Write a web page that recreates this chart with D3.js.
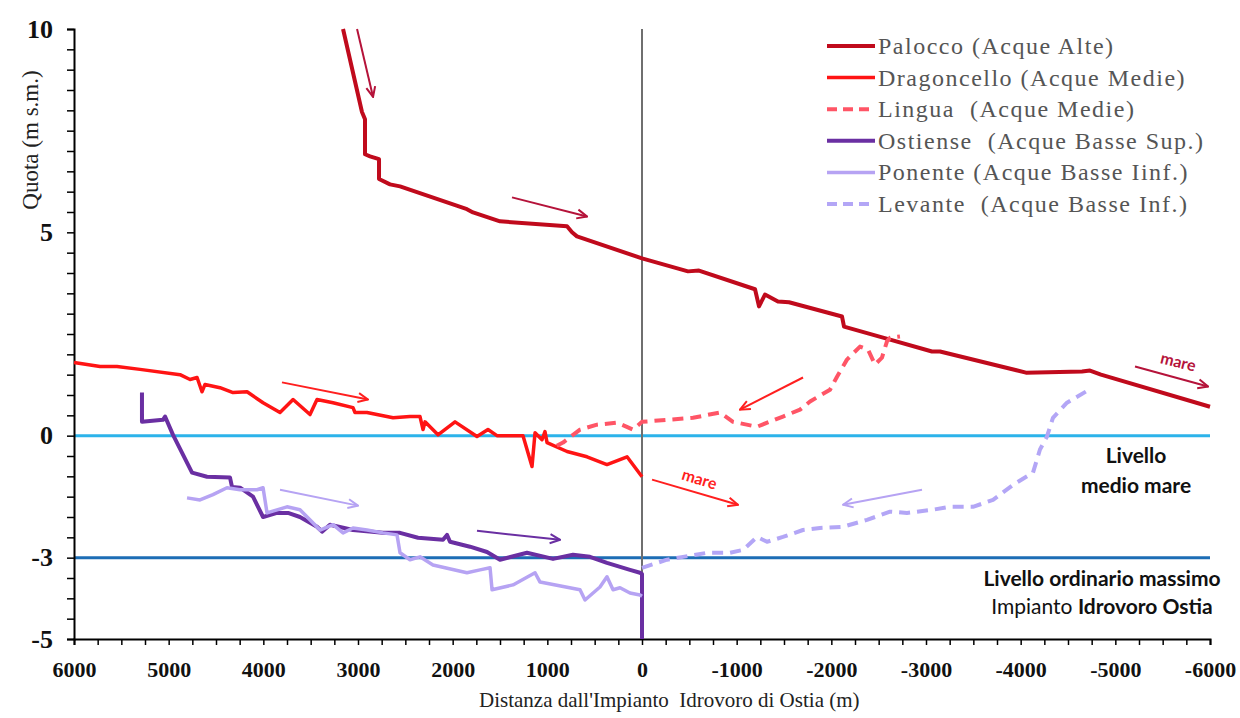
<!DOCTYPE html>
<html>
<head>
	<title>Profili idraulici</title>
    <script type="text/javascript" src="https://cdnjs.cloudflare.com/ajax/libs/d3/7.8.5/d3.min.js"></script>
    <style>
        body { margin: 0; background: #ffffff; }
    </style>
</head>
<body>
</body>

<script type="text/javascript">

// Profili dei canali - distanza (m) dall'impianto idrovoro, quota (m s.m.)

var palocco = [[3158,10],[2958,7.96],[2926,7.78],[2926,6.92],[2873,6.87],[2778,6.80],[2778,6.31],[2662,6.18],[2556,6.13],
    [1849,5.57],[1785,5.49],[1500,5.27],[792,5.15],[739,5.0],[687,4.90],[0,4.36],[-486,4.04],[-602,4.06],[-1194,3.60],
    [-1236,3.18],[-1299,3.47],[-1436,3.30],[-1553,3.28],[-2113,2.93],[-2134,2.68],[-2546,2.41],[-3063,2.07],[-3148,2.07],
    [-4056,1.55],[-4648,1.58],[-4732,1.60],[-4848,1.50],[-6000,0.71]]

var dragoncello = [[6000,1.80],[5725,1.70],[5546,1.70],[5303,1.63],[4880,1.50],[4774,1.38],[4700,1.43],[4648,1.08],
    [4616,1.26],[4458,1.18],[4320,1.06],[4172,1.08],[4003,0.81],[3824,0.57],[3686,0.89],[3507,0.52],[3433,0.89],
    [3264,0.81],[3053,0.69],[3032,0.57],[2905,0.57],[2630,0.44],[2451,0.47],[2345,0.47],[2313,0.15],[2292,0.34],
    [2155,0.02],[1975,0.34],[1743,-0.02],[1627,0.15],[1532,0],[1257,0],[1162,-0.76],[1130,0.07],[1056,-0.10],
    [1025,0.10],[1003,-0.17],[792,-0.39],[581,-0.52],[370,-0.71],[158,-0.52],[0,-1.01]]

var lingua = [[900,-0.25],[834,-0.17],[655,0.15],[475,0.27],[264,0.32],[95,0.15],[0,0.34],[-264,0.39],[-539,0.44],
    [-824,0.57],[-961,0.34],[-1215,0.22],[-1489,0.47],[-1669,0.64],[-1775,0.84],[-1986,1.13],[-2060,1.45],[-2165,1.87],
    [-2303,2.19],[-2387,2.12],[-2461,1.75],[-2535,1.92],[-2588,2.32],[-2620,2.41],[-2725,2.44]]

var ostiense = [[5282,1.06],[5282,0.34],[5060,0.39],[5038,0.47],[4954,0.02],[4753,-0.91],[4595,-1.01],[4352,-1.03],
    [4331,-1.26],[4246,-1.28],[4109,-1.50],[4003,-2.0],[3855,-1.90],[3739,-1.90],[3613,-2.0],[3433,-2.24],[3380,-2.36],
    [3296,-2.19],[3053,-2.32],[2736,-2.39],[2556,-2.39],[2366,-2.51],[2102,-2.56],[2060,-2.44],[2028,-2.61],[1817,-2.73],
    [1637,-2.86],[1500,-3.05],[1215,-2.88],[940,-3.03],[729,-2.93],[550,-2.98],[370,-3.13],[127,-3.30],[21,-3.37],
    [0,-3.4],[0,-5]]

var ponente = [[4806,-1.53],[4669,-1.58],[4532,-1.45],[4384,-1.28],[4246,-1.33],[4067,-1.33],[4003,-1.28],[3961,-1.90],
    [3750,-1.75],[3613,-1.82],[3401,-2.32],[3264,-2.19],[3158,-2.39],[3053,-2.27],[2905,-2.32],[2736,-2.39],[2588,-2.44],
    [2556,-2.88],[2451,-3.05],[2345,-2.98],[2208,-3.18],[1849,-3.37],[1711,-3.30],[1605,-3.25],[1584,-3.79],[1363,-3.67],
    [1130,-3.37],[1077,-3.60],[655,-3.79],[602,-4.04],[444,-3.72],[370,-3.47],[306,-3.79],[232,-3.74],[127,-3.87],
    [21,-3.92],[0,-3.95]]

var levante = [[0,-3.25],[-264,-3.05],[-433,-2.98],[-687,-2.88],[-930,-2.88],[-1067,-2.81],[-1215,-2.49],[-1320,-2.61],
    [-1489,-2.49],[-1700,-2.32],[-1880,-2.27],[-2123,-2.24],[-2377,-2.07],[-2620,-1.87],[-2799,-1.90],[-3074,-1.82],
    [-3253,-1.75],[-3496,-1.75],[-3708,-1.58],[-3919,-1.21],[-4130,-0.91],[-4204,-0.34],[-4278,-0.02],[-4341,0.44],
    [-4489,0.81],[-4700,1.1]]

var seriesNames = ["Palocco (Acque Alte)", "Dragoncello (Acque Medie)", "Lingua  (Acque Medie)",
    "Ostiense  (Acque Basse Sup.)", "Ponente (Acque Basse Iinf.)", "Levante  (Acque Basse Inf.)"]

// livelli di riferimento
var levelValues = [0, -3]

// tick labels
var xTickLabels = [6000, 5000, 4000, 3000, 2000, 1000, 0, -1000, -2000, -3000, -4000, -5000, -6000]
var yTickLabels = [10, 5, 0, -3, -5]

// frecce di direzione del flusso [x1, q1, x2, q2]
var arrowPalocco = [[3010,10.0,2841,8.33],[1373,5.86,581,5.39],[-5208,1.70,-5979,1.21]]
var arrowDragoncello = [[3803,1.31,2894,0.89],[-106,-1.08,-1014,-1.70]]
var arrowLingua = [[-1701,1.43,-1035,0.64]]
var arrowOstiense = [[1743,-2.34,866,-2.56]]
var arrowPonente = [[3824,-1.33,3000,-1.72]]
var arrowLevante = [[-2958,-1.33,-2123,-1.70]]


var w = 1240,
	h = 718

var margin = {top: 29, right: 30, bottom: 79, left: 74}

var svg = d3.select("body").append("svg")
    .attr("width", w)
    .attr("height", h)
    .style("background", "#ffffff")

var xScale = d3.scaleLinear()
    .domain([6000, -6000])
    .range([margin.left, w - margin.right])

var yScale = d3.scaleLinear()
    .domain([-5, 10])
    .range([h - margin.bottom, margin.top])

var serifFont = "'Liberation Serif', 'Times New Roman', serif"
var sansFont = "Lato, 'Open Sans', sans-serif"

// series styles
var series = [
    {name: seriesNames[0], data: palocco, color: "#c00a1c", width: 4, dash: null},
    {name: seriesNames[1], data: dragoncello, color: "#ff1414", width: 3.5, dash: null},
    {name: seriesNames[2], data: lingua, color: "#ff5566", width: 4, dash: "11,7"},
    {name: seriesNames[3], data: ostiense, color: "#6a2fa2", width: 4, dash: null},
    {name: seriesNames[4], data: ponente, color: "#b6a3f3", width: 3.5, dash: null},
    {name: seriesNames[5], data: levante, color: "#b3a6f6", width: 4, dash: "11,7"}
]

// arrow markers, one per colour
var arrowColors = {palocco: "#b5133a", dragoncello: "#ff1f1f", ostiense: "#6a2fa2", ponente: "#b6a3f3"}
var defs = svg.append("defs")
Object.keys(arrowColors).forEach(function(k){
    defs.append("marker")
        .attr("id", "arrow-" + k)
        .attr("viewBox", "0 0 12 12")
        .attr("refX", 11)
        .attr("refY", 6)
        .attr("markerWidth", 12)
        .attr("markerHeight", 12)
        .attr("markerUnits", "userSpaceOnUse")
        .attr("orient", "auto")
        .append("path")
        .attr("d", "M1,1.5 L11,6 L1,10.5")
        .attr("fill", "none")
        .attr("stroke", arrowColors[k])
        .attr("stroke-width", 2)
})

// reference levels
var levelColors = ["#2cb3ea", "#1c6db5"]
svg.selectAll(".level")
    .data(levelValues)
    .enter()
    .append("line")
    .attr("class", "level")
    .attr("x1", xScale(6000))
    .attr("x2", xScale(-6000))
    .attr("y1", function(d){ return yScale(d) })
    .attr("y2", function(d){ return yScale(d) })
    .style("stroke", function(d,i){ return levelColors[i] })
    .style("stroke-width", 3)

// vertical line at the pumping plant
svg.append("line")
    .attr("x1", xScale(0))
    .attr("x2", xScale(0))
    .attr("y1", yScale(10))
    .attr("y2", yScale(-5))
    .style("stroke", "#6f6f6f")
    .style("stroke-width", 2)

// axes
var xTicks = d3.range(6000, -6001, -250)
var xAxis = svg.append("g")
    .attr("transform", "translate(0," + yScale(-5) + ")")
    .call(d3.axisBottom(xScale)
        .tickValues(xTicks)
        .tickSize(6)
        .tickFormat(function(d){ return xTickLabels.indexOf(d) >= 0 ? String(d) : "" }))
xAxis.select(".domain").style("stroke", "#000").style("stroke-width", 2)
xAxis.selectAll(".tick line").style("stroke", "#000").style("stroke-width", 1.5)
xAxis.selectAll(".tick text")
    .attr("y", 38)
    .attr("dy", 0)
    .style("font-family", serifFont)
    .style("font-size", "22px")
    .style("font-weight", "bold")
    .style("fill", "#111")

var yTicks = d3.range(-5, 10.01, 0.5)
var yAxis = svg.append("g")
    .attr("transform", "translate(" + xScale(6000) + ",0)")
    .call(d3.axisLeft(yScale)
        .tickValues(yTicks)
        .tickSize(7)
        .tickPadding(14)
        .tickFormat(function(d){ return yTickLabels.indexOf(d) >= 0 ? String(d) : "" }))
yAxis.select(".domain").style("stroke", "#000").style("stroke-width", 2)
yAxis.selectAll(".tick line").style("stroke", "#000").style("stroke-width", 1.5)
yAxis.selectAll(".tick text")
    .style("font-family", serifFont)
    .style("font-size", "26px")
    .style("font-weight", "bold")
    .style("fill", "#111")

// axis titles
svg.append("text")
    .attr("transform", "translate(38,140) rotate(-90)")
    .attr("text-anchor", "middle")
    .style("font-family", serifFont)
    .style("font-size", "23px")
    .style("fill", "#222")
    .text("Quota (m s.m.)")

svg.append("text")
    .attr("x", 479)
    .attr("y", 707)
    .style("font-family", serifFont)
    .style("font-size", "21px")
    .style("fill", "#222")
    .style("white-space", "pre")
    .text("Distanza dall'Impianto  Idrovoro di Ostia (m)")

// series lines
var line = d3.line()
    .x(function(d){ return xScale(d[0]) })
    .y(function(d){ return yScale(d[1]) })

svg.selectAll(".serie")
    .data(series)
    .enter()
    .append("path")
    .attr("class", "serie")
    .attr("d", function(d){ return line(d.data) })
    .style("fill", "none")
    .style("stroke", function(d){ return d.color })
    .style("stroke-width", function(d){ return d.width })
    .style("stroke-dasharray", function(d){ return d.dash })
    .style("stroke-linejoin", "round")

// flow arrows
function drawArrows(data, key, color){
    svg.selectAll(".arrow-" + key + "-" + color.slice(1))
        .data(data)
        .enter()
        .append("line")
        .attr("x1", function(d){ return xScale(d[0]) })
        .attr("y1", function(d){ return yScale(d[1]) })
        .attr("x2", function(d){ return xScale(d[2]) })
        .attr("y2", function(d){ return yScale(d[3]) })
        .style("stroke", color)
        .style("stroke-width", 2)
        .attr("marker-end", "url(#arrow-" + key + ")")
}
drawArrows(arrowPalocco, "palocco", arrowColors.palocco)
drawArrows(arrowDragoncello, "dragoncello", arrowColors.dragoncello)
drawArrows(arrowLingua, "dragoncello", arrowColors.dragoncello)
drawArrows(arrowOstiense, "ostiense", arrowColors.ostiense)
drawArrows(arrowPonente, "ponente", arrowColors.ponente)
drawArrows(arrowLevante, "ponente", arrowColors.ponente)

// "mare" labels along the last arrows
var mareLabels = [
    {x: -5650, q: 1.68, angle: 14, color: arrowColors.palocco},
    {x: -590, q: -1.2, angle: 17, color: arrowColors.dragoncello}
]
svg.selectAll(".mare")
    .data(mareLabels)
    .enter()
    .append("text")
    .attr("class", "mare")
    .attr("transform", function(d){
        return "translate(" + xScale(d.x) + "," + yScale(d.q) + ") rotate(" + d.angle + ")"
    })
    .attr("text-anchor", "middle")
    .style("font-family", sansFont)
    .style("font-size", "16px")
    .style("font-weight", "bold")
    .style("fill", function(d){ return d.color })
    .text("mare")

// level captions
var caption1 = svg.append("text")
    .attr("text-anchor", "middle")
    .style("font-family", sansFont)
    .style("font-size", "21px")
    .style("font-weight", "bold")
    .style("fill", "#111")
caption1.append("tspan").attr("x", 1136).attr("y", yScale(-0.68)).text("Livello")
caption1.append("tspan").attr("x", 1136).attr("y", yScale(-1.42)).text("medio mare")

var caption2 = svg.append("text")
    .attr("text-anchor", "middle")
    .style("font-family", sansFont)
    .style("font-size", "21px")
    .style("fill", "#111")
caption2.append("tspan").attr("x", 1102).attr("y", yScale(-3.7))
    .style("font-weight", "bold").text("Livello ordinario massimo")
var row2 = caption2.append("tspan").attr("x", 1102).attr("y", yScale(-4.39))
row2.append("tspan").text("Impianto ")
row2.append("tspan").style("font-weight", "bold").text("Idrovoro Ostia")

// legend
var legend = svg.append("g")
    .attr("transform", "translate(827,46)")

var legendRows = legend.selectAll(".legend-row")
    .data(series)
    .enter()
    .append("g")
    .attr("class", "legend-row")
    .attr("transform", function(d,i){ return "translate(0," + (i * 31.6) + ")" })

legendRows.append("line")
    .attr("x1", 0)
    .attr("x2", 48)
    .style("stroke", function(d){ return d.color })
    .style("stroke-width", function(d){ return d.width })
    .style("stroke-dasharray", function(d){ return d.dash ? "10,6" : null })

legendRows.append("text")
    .attr("x", 51)
    .attr("y", 8)
    .style("font-family", serifFont)
    .style("font-size", "24px")
    .style("letter-spacing", "1.5px")
    .style("white-space", "pre")
    .style("fill", "#555")
    .text(function(d){ return d.name })

</script>

</html>
